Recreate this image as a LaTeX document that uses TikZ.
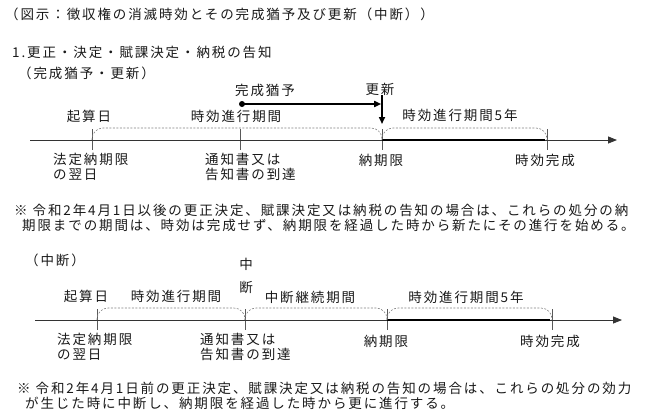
\documentclass[tikz,border=0pt]{standalone}
\usepackage{fontspec}
\setmainfont[LetterSpace=14]{Noto Sans CJK JP}
\usetikzlibrary{arrows.meta}
\tikzset{>={Triangle[length=7pt,width=6pt]},
  txt/.style={font=\fontsize{13.5}{15}\selectfont, inner sep=0pt, text=black!90},
  lbl/.style={txt, anchor=west, align=left},
  axis/.style={line width=0.8pt, black!80, -{Triangle[length=9pt,width=7pt]}},
  tick/.style={line width=0.6pt, black!65},
  span/.style={black!50, line width=0.6pt, dash pattern=on 2pt off 1.5pt, rounded corners=11pt},
  run/.style={line width=2.8pt},
  turn/.style={line width=1.6pt, ->}}

\begin{document}
\begin{tikzpicture}[x=1pt,y=-1pt]
\useasboundingbox (0,0) rectangle (650,418);
\node[lbl] (title) at (5,14) {（図示：徴収権の消滅時効とその完成猶予及び更新（中断））};
\node[lbl] (head) at (12,52) {1.更正・決定・賦課決定・納税の告知};
\node[lbl] (sub1) at (18,73) {（完成猶予・更新）};

\coordinate (S1) at (30,140); \coordinate (E1) at (617,140);
\coordinate (A1) at (92,140); \coordinate (B1) at (240,140);
\coordinate (C1) at (382,140); \coordinate (D1) at (547,140);
\foreach \p in {A1,B1,C1,D1} \draw[tick] (\p) ++(0,-11) -- ++(0,21);
\draw[axis] (S1) -- (E1);
\draw[run] (C1) -- ([xshift=-2pt]D1);
\draw[span] (A1) -- ++(0,-12) -| (C1);
\draw[span] (C1) -- ++(0,-12) -| (D1);

\node[txt] (wait1) at (265,90) {完成猶予};
\node[txt] (renew) at (380,89) {更新};
\coordinate (G1) at (242,104); \coordinate (K1) at (382,104);
\fill (G1) circle (3pt);
\draw[turn, shorten >=0.8pt] (G1) -- (K1);
\draw[turn, shorten >=16pt] (renew.south -| C1) -- (C1);

\node[txt] (start1) at (89,116) {起算日};
\node[txt] (prog1) at (236,116) {時効進行期間};
\node[txt] (five1) at (460,115) {時効進行期間5年};
\node[lbl] (due1) at (53,166.5) {法定納期限\\の翌日};
\node[lbl] (notice1) at (205,166.5) {通知書又は\\告知書の到達};
\node[txt] (limit1) at (381,160) {納期限};
\node[txt] (done1) at (545,160) {時効完成};

\node[lbl] (note1a) at (14,210) {※ 令和2年4月1日以後の更正決定、賦課決定又は納税の告知の場合は、これらの処分の納};
\node[lbl] (note1b) at (22,225) {期限までの期間は、時効は完成せず、納期限を経過した時から新たにその進行を始める。};

\node[lbl] (sub2) at (25,260) {（中断）};
\node[txt, align=center] (cut) at (246,275.5) {中\\[8pt]断};

\coordinate (S2) at (35,320); \coordinate (E2) at (622,320);
\coordinate (A2) at (97,320); \coordinate (B2) at (245,320);
\coordinate (C2) at (387,320); \coordinate (D2) at (552,320);
\foreach \p in {A2,B2,C2,D2} \draw[tick] (\p) ++(0,-11) -- ++(0,21);
\draw[axis] (S2) -- (E2);
\draw[run] (C2) -- ([xshift=-2pt]D2);
\draw[span] (A2) -- ++(0,-12) -| (B2);
\draw[span] (B2) -- ++(0,-12) -| (C2);
\draw[span] (C2) -- ++(0,-12) -| (D2);

\node[txt] (start2) at (86,296) {起算日};
\node[txt] (prog2) at (176,296) {時効進行期間};
\node[txt] (hold2) at (310,297) {中断継続期間};
\node[txt] (five2) at (466,297) {時効進行期間5年};
\node[lbl] (due2) at (57,346.5) {法定納期限\\の翌日};
\node[lbl] (notice2) at (200,346.5) {通知書又は\\告知書の到達};
\node[txt] (limit2) at (386,341) {納期限};
\node[txt] (done2) at (550,341) {時効完成};

\node[lbl] (note2a) at (17,388) {※ 令和2年4月1日前の更正決定、賦課決定又は納税の告知の場合は、これらの処分の効力};
\node[lbl] (note2b) at (25,403) {が生じた時に中断し、納期限を経過した時から更に進行する。};
\end{tikzpicture}
\end{document}
